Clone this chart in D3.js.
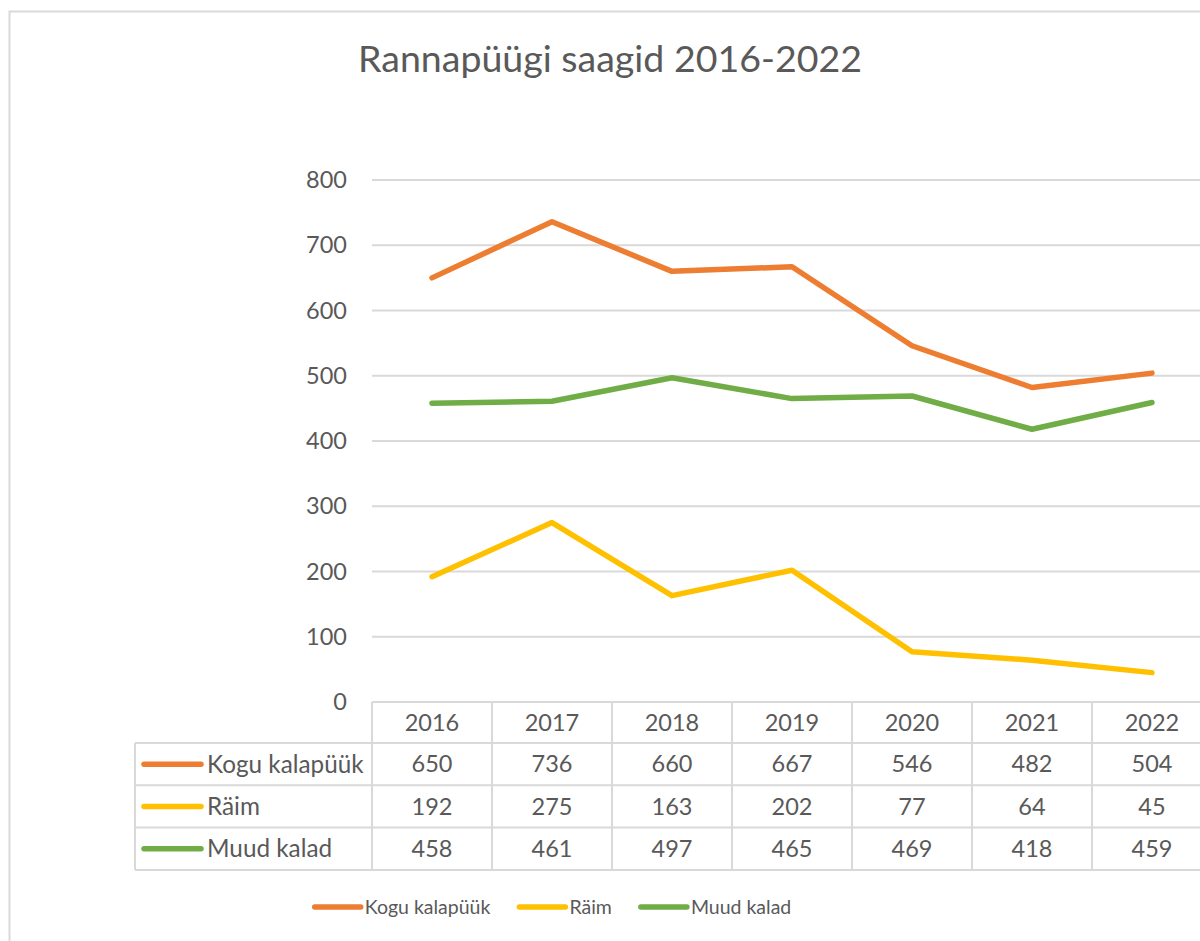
<!DOCTYPE html>
<html>
<head>
<meta charset="utf-8">
<script src="https://cdn.jsdelivr.net/npm/d3@7"></script>
<style>
  body { margin: 0; background: #fff; }
  text { font-family: Lato, "Open Sans", sans-serif; fill: #595959; }
</style>
</head>
<body>
<script>
// data ==========================================================
var title = "Rannapüügi saagid 2016-2022";
var years = ["2016", "2017", "2018", "2019", "2020", "2021", "2022"];
var seriesNames = ["Kogu kalapüük", "Räim", "Muud kalad"];
var koguKalapuuk = [650, 736, 660, 667, 546, 482, 504];
var raim = [192, 275, 163, 202, 77, 64, 45];
var muudKalad = [458, 461, 497, 465, 469, 418, 459];
var yTicks = [0, 100, 200, 300, 400, 500, 600, 700, 800];
var colors = ["#ED7D31", "#FFC000", "#70AD47"];

var series = [koguKalapuuk, raim, muudKalad].map((values, i) => ({
  name: seriesNames[i], values, color: colors[i]
}));
// ===============================================================

var width = 1200, height = 941;
var gridColor = "#d9d9d9";
var numSize = "23.5px";

var svg = d3.select("body").append("svg")
    .attr("width", width)
    .attr("height", height);

svg.append("rect")
    .attr("width", width).attr("height", height)
    .attr("fill", "#fff");

// chart border (runs off the right / bottom of the picture)
svg.append("rect")
    .attr("x", 9.5).attr("y", 11.5)
    .attr("width", 1240).attr("height", 1000)
    .attr("fill", "none")
    .attr("stroke", gridColor)
    .attr("stroke-width", 2);

svg.append("text")
    .attr("x", 610).attr("y", 72)
    .attr("text-anchor", "middle")
    .attr("font-size", "37.5px")
    .text(title);

var x = d3.scaleBand()
    .domain(years)
    .range([372, 1212]);

var y = d3.scaleLinear()
    .domain([0, 800])
    .range([702, 180]);

// gridlines
svg.append("g")
  .selectAll("line")
    .data(yTicks)
  .enter().append("line")
    .attr("x1", 372).attr("x2", 1212)
    .attr("y1", d => y(d)).attr("y2", d => y(d))
    .attr("stroke", gridColor)
    .attr("stroke-width", 2);

var yAxis = d3.axisLeft(y)
    .tickValues(yTicks)
    .tickSize(0)
    .tickPadding(0);

var yG = svg.append("g")
    .attr("transform", "translate(347,0)")
    .call(yAxis);
yG.select(".domain").remove();
yG.selectAll("text")
    .attr("font-size", numSize)
    .attr("font-family", "Lato")
    .attr("fill", "#595959");

var line = d3.line()
    .x((d, i) => x(years[i]) + x.bandwidth() / 2)
    .y(d => y(d));

svg.selectAll(".series")
    .data(series)
  .enter().append("path")
    .attr("class", "series")
    .attr("d", d => line(d.values))
    .attr("fill", "none")
    .attr("stroke", d => d.color)
    .attr("stroke-width", 5.5)
    .attr("stroke-linecap", "round")
    .attr("stroke-linejoin", "round");

// data table ===================================================
var headerTop = 702, headerH = 41, rowH = 42.3, labelLeft = 135;
var rowY = i => headerTop + headerH + i * rowH;
var tableBottom = rowY(series.length);

var table = svg.append("g").attr("stroke", gridColor).attr("stroke-width", 2);

// horizontal lines
table.append("line")
    .attr("x1", 372).attr("x2", 1212)
    .attr("y1", headerTop).attr("y2", headerTop);
d3.range(series.length + 1).forEach(i => {
  table.append("line")
      .attr("x1", labelLeft).attr("x2", 1212)
      .attr("y1", rowY(i)).attr("y2", rowY(i));
});
// vertical lines
years.forEach(yr => {
  table.append("line")
      .attr("x1", x(yr)).attr("x2", x(yr))
      .attr("y1", headerTop).attr("y2", tableBottom);
});
table.append("line")
    .attr("x1", 1212).attr("x2", 1212)
    .attr("y1", headerTop).attr("y2", tableBottom);
table.append("line")
    .attr("x1", labelLeft).attr("x2", labelLeft)
    .attr("y1", rowY(0)).attr("y2", tableBottom);

svg.append("g").selectAll("text")
    .data(years)
  .enter().append("text")
    .attr("x", d => x(d) + x.bandwidth() / 2)
    .attr("y", headerTop + headerH / 2)
    .attr("dy", "0.35em")
    .attr("text-anchor", "middle")
    .attr("font-size", numSize)
    .text(d => d);

var rows = svg.append("g").selectAll("g")
    .data(series)
  .enter().append("g")
    .attr("transform", (d, i) => `translate(0,${rowY(i) + rowH / 2})`);

rows.append("line")
    .attr("x1", 144).attr("x2", 201)
    .attr("stroke", d => d.color)
    .attr("stroke-width", 5.5)
    .attr("stroke-linecap", "round");

rows.append("text")
    .attr("x", 207)
    .attr("dy", "0.35em")
    .attr("font-size", "24.3px")
    .text(d => d.name);

rows.selectAll(".val")
    .data(d => d.values)
  .enter().append("text")
    .attr("class", "val")
    .attr("x", (d, i) => x(years[i]) + x.bandwidth() / 2)
    .attr("dy", "0.35em")
    .attr("text-anchor", "middle")
    .attr("font-size", numSize)
    .text(d => d);

// legend =======================================================
var legend = svg.append("g").attr("transform", "translate(0,907)");
var keyW = 48, keyGap = 4, itemGap = 27;

var items = legend.selectAll("g")
    .data(series)
  .enter().append("g");

items.append("line")
    .attr("x1", 2).attr("x2", keyW)
    .attr("stroke", d => d.color)
    .attr("stroke-width", 5.5)
    .attr("stroke-linecap", "round");

items.append("text")
    .attr("x", keyW + keyGap)
    .attr("dy", "0.35em")
    .attr("font-size", "19.5px")
    .text(d => d.name);

var widths = [];
items.each(function() {
  widths.push(keyW + keyGap + this.querySelector("text").getComputedTextLength());
});
var total = d3.sum(widths) + itemGap * (widths.length - 1);
var cx = 552 - total / 2;
items.attr("transform", (d, i) => {
  var pos = cx + d3.sum(widths.slice(0, i)) + itemGap * i;
  return `translate(${pos},0)`;
});
</script>
</body>
</html>
